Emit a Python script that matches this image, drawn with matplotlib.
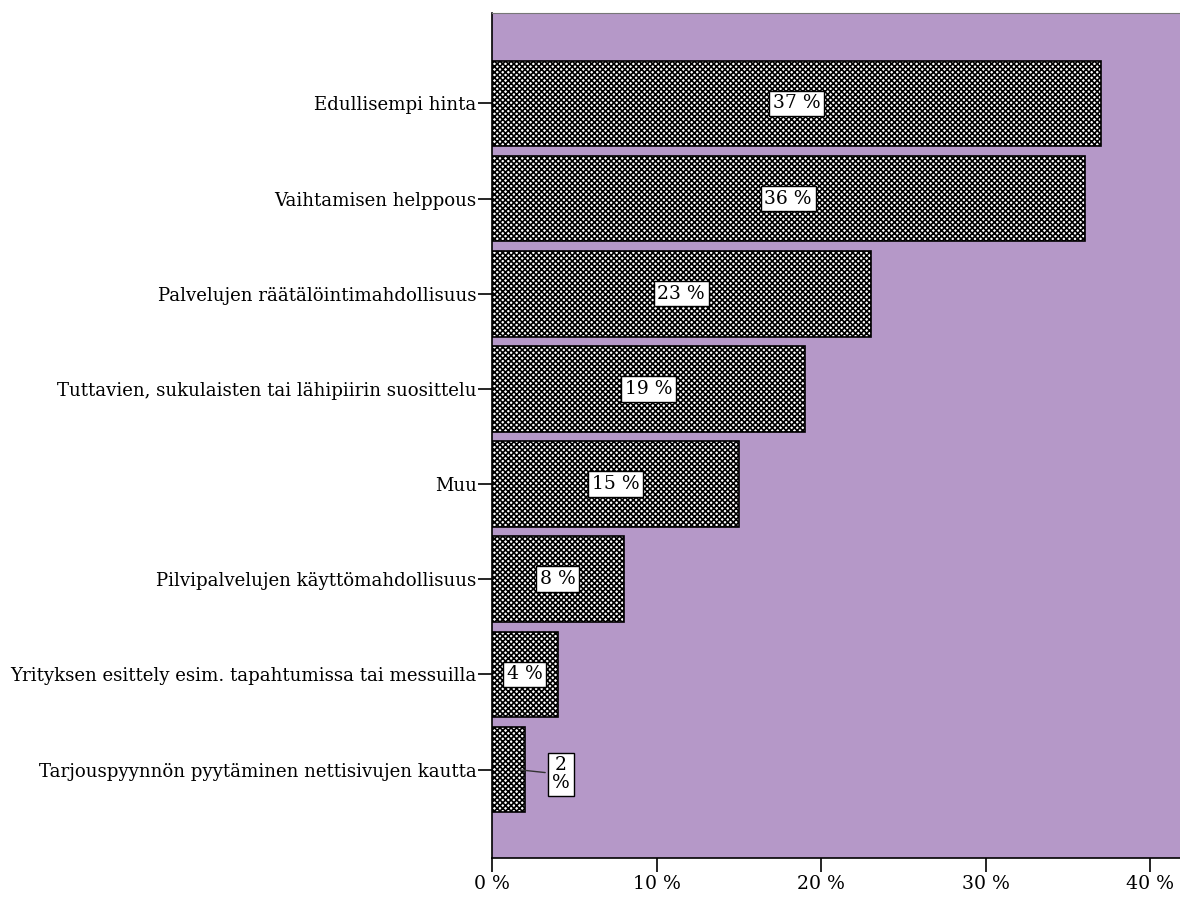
import numpy as np
import matplotlib.pyplot as plt

plt.rcParams['font.family'] = ['DejaVu Serif']
plt.rcParams['hatch.linewidth'] = 1.2

categories = [
    'Edullisempi hinta',
    'Vaihtamisen helppous',
    'Palvelujen räätälöintimahdollisuus',
    'Tuttavien, sukulaisten tai lähipiirin suosittelu',
    'Muu',
    'Pilvipalvelujen käyttömahdollisuus',
    'Yrityksen esittely esim. tapahtumissa tai messuilla',
    'Tarjouspyynnön pyytäminen nettisivujen kautta',
]
values = [37, 36, 23, 19, 15, 8, 4, 2]
xticks = [0, 10, 20, 30, 40]

fig = plt.figure(figsize=(11.8, 8.99), dpi=100)
ax = fig.add_axes([0.4169, 0.0456, 0.5831, 0.9399])
ax.set_facecolor('#b598c8')

y = np.arange(len(categories))
ax.barh(y, values, height=0.9, color='white', edgecolor='black',
        hatch='xxxxxx', linewidth=1.2)

box = dict(boxstyle='square,pad=0.2', fc='white', ec='black', lw=1)
for yi, v in zip(y, values):
    if v >= 4:
        ax.text(v / 2, yi, f'{v} %', ha='center', va='center', fontsize=13.5,
                bbox=box)
    else:
        ax.annotate(f'{v}\n%', xy=(v / 2 + 0.5, yi), xytext=(4.2, yi + 0.05),
                    ha='center', va='center', fontsize=13.5, bbox=box,
                    linespacing=1.0,
                    arrowprops=dict(arrowstyle='-', color='#333333', lw=1))

ax.set_ylim(7.93, -0.95)
ax.set_xlim(0, 41.8)
ax.set_yticks(y)
ax.set_yticklabels(categories, fontsize=13.1)
ax.set_xticks(xticks)
ax.set_xticklabels([f'{t} %' for t in xticks], fontsize=13.6)
ax.tick_params(axis='y', length=10, width=1.2, pad=1)
ax.tick_params(axis='x', length=10, width=1.2, pad=2)
ax.spines['right'].set_visible(False)
ax.spines['top'].set_color('#777777')
ax.spines['left'].set_linewidth(1.2)
ax.spines['bottom'].set_linewidth(1.2)

fig.savefig('out.png', dpi=100)
